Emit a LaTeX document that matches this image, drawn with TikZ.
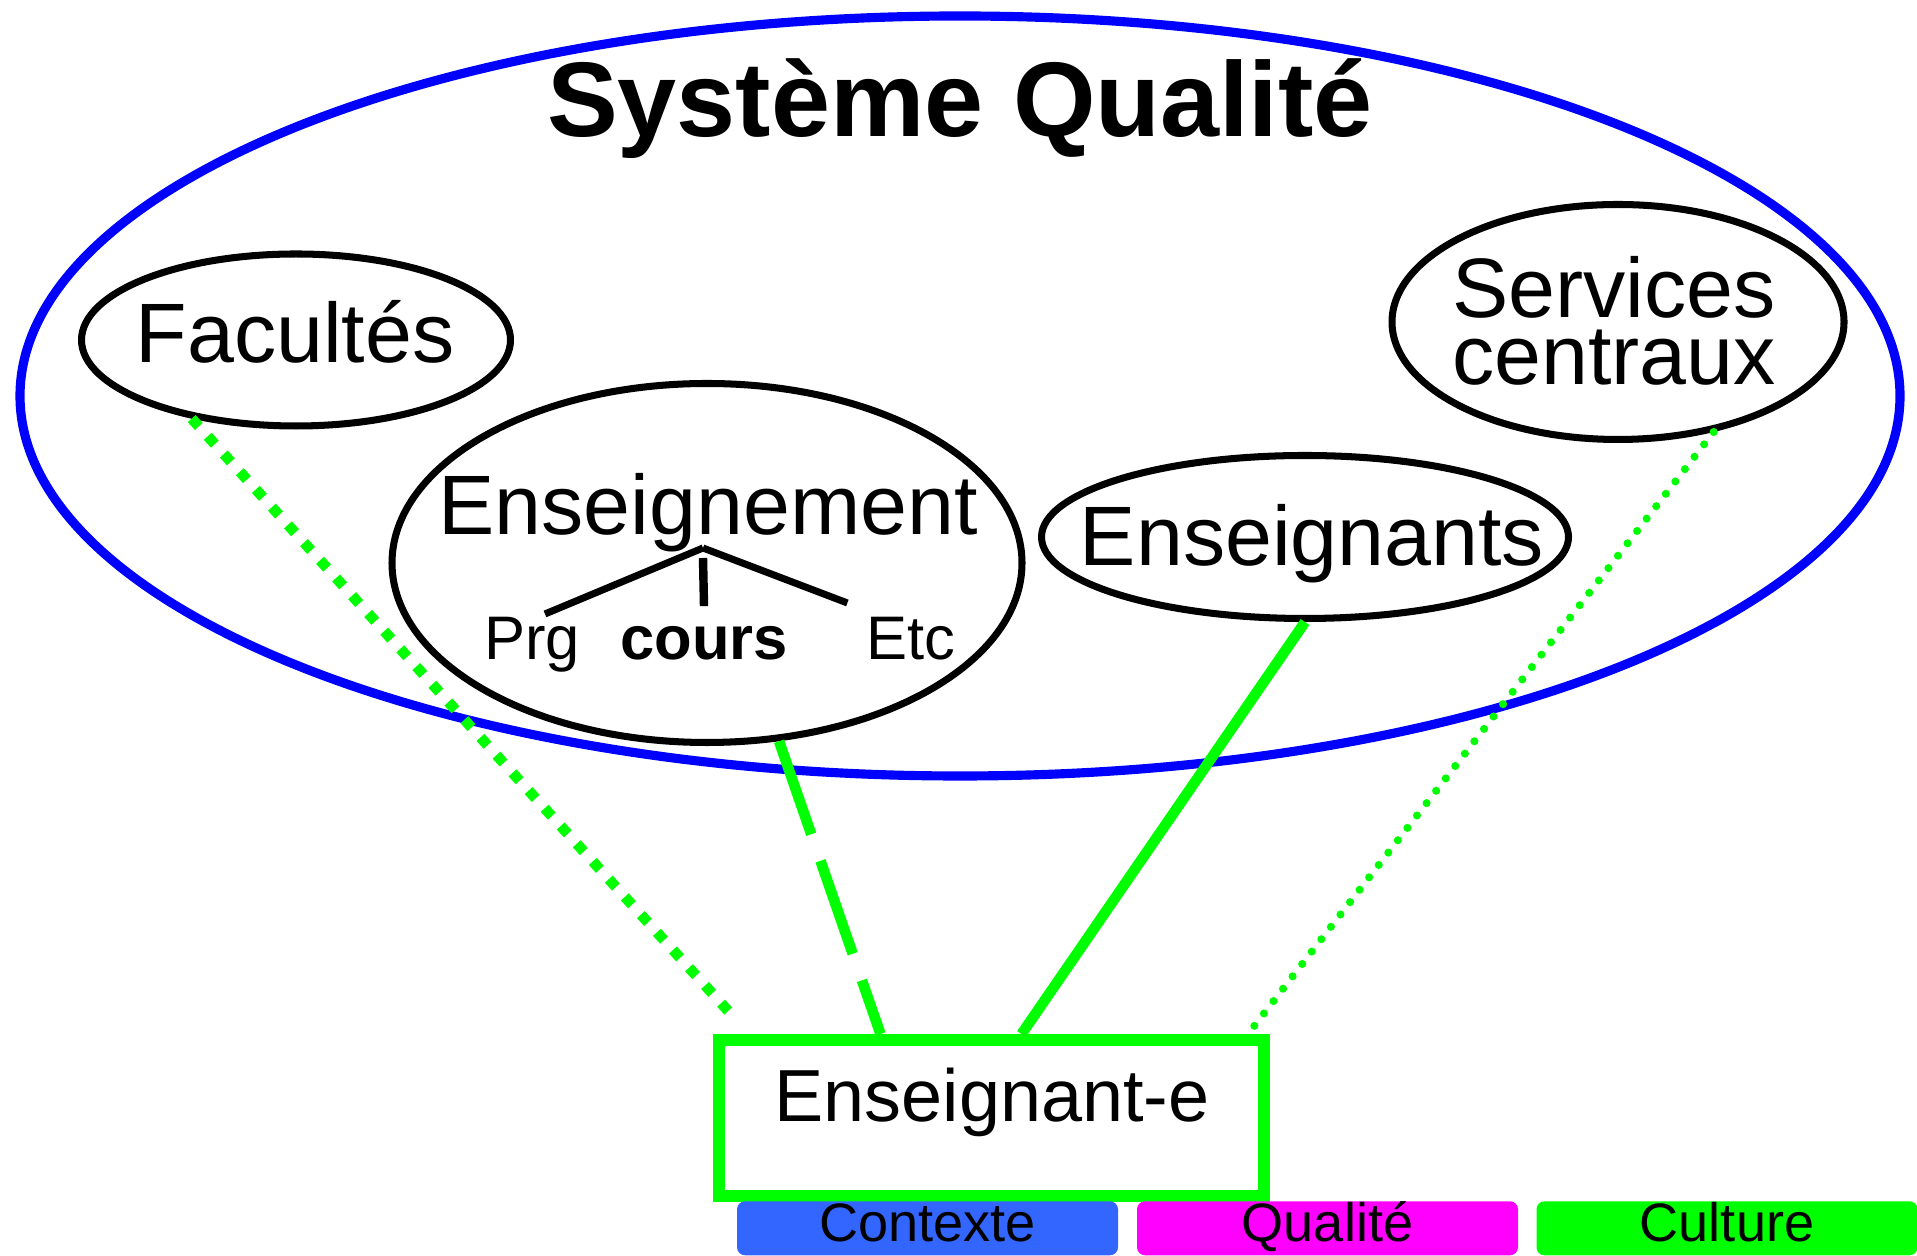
\documentclass[tikz,border=0pt]{standalone}
\usepackage{fontspec}
\setmainfont{Liberation Sans}
\usetikzlibrary{shapes.geometric}
\definecolor{vert}{RGB}{0,255,0}
\definecolor{bleu}{RGB}{0,0,255}
\definecolor{contexte}{RGB}{51,102,255}
\definecolor{qualite}{RGB}{255,0,255}
\begin{document}
\begin{tikzpicture}[bulle/.style={draw=black,line width=2pt,ellipse,inner sep=0pt},
  mot/.style={inner sep=0pt,anchor=base,font=\fontsize{24}{19}\selectfont},
  petit/.style={inner sep=0pt,anchor=base,font=\fontsize{17.5}{21}\selectfont},
  branche/.style={line width=2pt},
  lien/.style={draw=vert,line width=3pt},
  legende/.style={anchor=south,minimum width=3.81cm,minimum height=0.54cm,inner sep=0pt,
    rounded corners=0.08cm,text height=0.4cm,text depth=0.14cm,font=\fontsize{15.4}{18}\selectfont}]
\useasboundingbox (0,0) rectangle (19.17,12.56);
% le systeme qualite
\draw[bleu,line width=2.6pt] (9.6,8.6) ellipse (9.40 and 3.80);
\node[anchor=base,font=\fontsize{30.2}{36}\selectfont\bfseries] (titre) at (9.6,11.19) {Système Qualité};
% les bulles
\node[bulle,minimum width=4.29cm,minimum height=1.72cm] (fac) at (2.96,9.16) {};
\node[bulle,minimum width=6.30cm,minimum height=3.59cm] (ens) at (7.07,6.93) {};
\node[bulle,minimum width=5.27cm,minimum height=1.63cm] (ensg) at (13.05,7.19) {};
\node[bulle,minimum width=4.52cm,minimum height=2.35cm] (serv) at (16.18,9.34) {};
\node[mot] (facnom) at (2.95,8.93) {Facultés};
\node[mot] (ensnom) at (7.08,7.21) {Enseignement};
\node[mot] (ensgnom) at (13.12,6.90) {Enseignants};
\node[mot,anchor=center,align=center] (servnom) at (16.14,9.35) {Services\\centraux};
% sous enseignement
\node[petit] (prg) at (5.32,5.96) {Prg};
\node[petit,font=\fontsize{17.5}{21}\selectfont\bfseries] (cours) at (7.04,5.96) {cours};
\node[petit] (etc) at (9.11,5.96) {Etc};
\coordinate (racine) at (7.03,7.08);
\draw[branche] (racine) -- ([shift={(0.13,0.03)}]prg.north);
\draw[branche] (racine) -- ([shift={(-0.185,0.14)}]etc.north west);
\draw[line width=2.4pt] ([yshift=-0.1cm]racine) -- ([yshift=0.2cm]cours.north);
% l'enseignant-e
\node[draw=vert,line width=3.4pt,fill=white,minimum width=5.45cm,minimum height=1.56cm,inner sep=0pt] (prof) at (9.915,1.38) {};
\node[anchor=base,inner sep=0pt,font=\fontsize{21}{25}\selectfont] (profnom) at (9.92,1.34) {Enseignant-e};
\draw[lien,dash pattern=on 3pt off 3.8pt,shorten >=2.2mm] (fac.217) -- ([xshift=3.6mm]prof.north west);
\draw[lien,dash pattern=on 28pt off 8pt] (ens.292) -- ([xshift=-1.11cm]prof.north);
\draw[lien] (ensg.south) -- ([xshift=0.3cm]prof.north);
\draw[lien,line width=2.3pt,line cap=round,dash pattern=on 0pt off 4.45pt] (serv.311) -- ([xshift=-2.2mm]prof.north east);
% legende
\node[legende,fill=contexte] (ctx) at (9.275,0) {Contexte};
\node[legende,fill=qualite] (qual) at (13.275,0) {Qualité};
\node[legende,fill=vert] (cult) at (17.27,0) {Culture};
\end{tikzpicture}
\end{document}
